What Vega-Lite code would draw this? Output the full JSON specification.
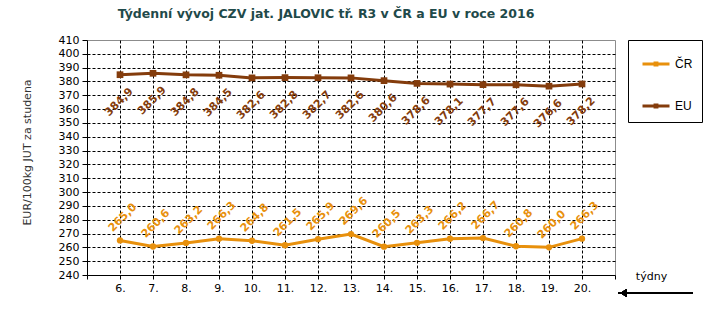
{
  "$schema": "https://vega.github.io/schema/vega-lite/v6.json",
  "width": 528,
  "height": 235,
  "autosize": {"type": "none"},
  "padding": {"left": 87, "top": 40, "right": 98, "bottom": 49},
  "background": "white",
  "config": {
    "locale": {"number": {"decimal": ",", "thousands": " ", "grouping": [3], "currency": ["", " €"]}},
    "view": {"stroke": "#8c8c8c", "strokeWidth": 1},
    "font": "DejaVu Sans"
  },
  "title": {
    "text": "Týdenní  vývoj CZV jat. JALOVIC tř. R3  v ČR a EU v roce 2016",
    "font": "DejaVu Sans",
    "fontSize": 12.5,
    "fontWeight": "bold",
    "color": "#1F4A4A",
    "anchor": "middle",
    "dx": -25,
    "offset": 14
  },
  "data": {
    "values": [
      {"week": 6, "series": "ČR", "value": 265.0},
      {"week": 7, "series": "ČR", "value": 260.6},
      {"week": 8, "series": "ČR", "value": 263.2},
      {"week": 9, "series": "ČR", "value": 266.3},
      {"week": 10, "series": "ČR", "value": 264.8},
      {"week": 11, "series": "ČR", "value": 261.5},
      {"week": 12, "series": "ČR", "value": 265.9},
      {"week": 13, "series": "ČR", "value": 269.6},
      {"week": 14, "series": "ČR", "value": 260.5},
      {"week": 15, "series": "ČR", "value": 263.3},
      {"week": 16, "series": "ČR", "value": 266.2},
      {"week": 17, "series": "ČR", "value": 266.7},
      {"week": 18, "series": "ČR", "value": 260.8},
      {"week": 19, "series": "ČR", "value": 260.0},
      {"week": 20, "series": "ČR", "value": 266.3},
      {"week": 6, "series": "EU", "value": 384.9},
      {"week": 7, "series": "EU", "value": 385.9},
      {"week": 8, "series": "EU", "value": 384.8},
      {"week": 9, "series": "EU", "value": 384.5},
      {"week": 10, "series": "EU", "value": 382.6},
      {"week": 11, "series": "EU", "value": 382.8},
      {"week": 12, "series": "EU", "value": 382.7},
      {"week": 13, "series": "EU", "value": 382.6},
      {"week": 14, "series": "EU", "value": 380.6},
      {"week": 15, "series": "EU", "value": 378.6},
      {"week": 16, "series": "EU", "value": 378.1},
      {"week": 17, "series": "EU", "value": 377.7},
      {"week": 18, "series": "EU", "value": 377.6},
      {"week": 19, "series": "EU", "value": 376.6},
      {"week": 20, "series": "EU", "value": 378.2}
    ]
  },
  "layer": [
    {
      "mark": {"type": "line", "strokeWidth": 3},
      "encoding": {
        "x": {
          "field": "week", "type": "quantitative",
          "scale": {"domain": [5, 21], "nice": false, "zero": false},
          "axis": {
            "values": [5,6,7,8,9,10,11,12,13,14,15,16,17,18,19,20,21],
            "tickCount": 30,
            "labelExpr": "datum.value >= 6 && datum.value <= 20 ? datum.value + '.' : ''",
            "labelOverlap": false,
            "grid": true,
            "gridColor": "black",
            "gridDash": [3, 2],
            "gridOpacity": {"condition": {"test": "datum.value < 6 || datum.value > 20", "value": 0}, "value": 1},
            "domainColor": "black",
            "tickColor": "black",
            "tickSize": 4,
            "labelFont": "DejaVu Sans",
            "labelFontSize": 11,
            "labelColor": "black",
            "labelPadding": 3,
            "title": "týdny",
            "titleX": 564,
            "titleY": 1,
            "titleBaseline": "middle",
            "titleAlign": "center",
            "titleFont": "DejaVu Sans",
            "titleFontWeight": "normal",
            "titleFontSize": 11,
            "titleColor": "black"
          }
        },
        "y": {
          "field": "value", "type": "quantitative",
          "scale": {"domain": [240, 410], "nice": false, "zero": false},
          "axis": {
            "values": [240,250,260,270,280,290,300,310,320,330,340,350,360,370,380,390,400,410],
            "tickCount": 30,
            "labelOverlap": false,
            "grid": true,
            "gridColor": "black",
            "gridDash": [3, 2],
            "gridOpacity": {"condition": {"test": "datum.value <= 240 || datum.value >= 410", "value": 0}, "value": 1},
            "domainColor": "black",
            "tickColor": "black",
            "tickSize": 5,
            "labelFont": "DejaVu Sans",
            "labelFontSize": 11,
            "labelColor": "black",
            "labelPadding": 3,
            "title": "EUR/100kg JUT za studena",
            "titleX": -60,
            "titleY": 112,
            "titleAngle": 270,
            "titleAlign": "center",
            "titleBaseline": "middle",
            "titleFont": "DejaVu Sans",
            "titleFontWeight": "normal",
            "titleFontSize": 11,
            "titleColor": "#333333"
          }
        },
        "color": {
          "field": "series", "type": "nominal",
          "scale": {"domain": ["ČR", "EU"], "range": ["#E8900C", "#843C0C"]},
          "legend": {
            "orient": "none",
            "legendX": 541,
            "legendY": 0,
            "title": null,
            "strokeColor": "black",
            "fillColor": "white",
            "padding": 9,
            "symbolType": "M-1,0H1M-0.07,-0.07H0.07V0.07H-0.07Z",
            "symbolSize": 729,
            "symbolStrokeWidth": 3,
            "rowPadding": 20,
            "labelFont": "Liberation Sans",
            "labelFontSize": 12,
            "labelColor": "black",
            "labelOffset": 4,
            "symbolOffset": 4
          }
        }
      }
    },
    {
      "transform": [{"filter": "datum.series == 'ČR'"}],
      "mark": {"type": "point", "shape": "circle", "filled": true, "opacity": 1, "size": 40, "color": "#E8900C"},
      "encoding": {
        "x": {"field": "week", "type": "quantitative"},
        "y": {"field": "value", "type": "quantitative"}
      }
    },
    {
      "transform": [{"filter": "datum.series == 'EU'"}],
      "mark": {"type": "point", "shape": "square", "filled": true, "opacity": 1, "size": 45, "color": "#843C0C"},
      "encoding": {
        "x": {"field": "week", "type": "quantitative"},
        "y": {"field": "value", "type": "quantitative"}
      }
    },
    {
      "transform": [{"filter": "datum.series == 'EU'"}],
      "mark": {"type": "text", "angle": 315, "dx": -20, "dy": 19, "font": "DejaVu Sans", "fontWeight": "bold", "fontSize": 11, "color": "#843C0C"},
      "encoding": {
        "x": {"field": "week", "type": "quantitative"},
        "y": {"field": "value", "type": "quantitative"},
        "text": {"field": "value", "type": "quantitative", "format": ".1f"}
      }
    },
    {
      "transform": [{"filter": "datum.series == 'ČR'"}],
      "mark": {"type": "text", "angle": 315, "dx": 18, "dy": -14, "font": "DejaVu Sans", "fontWeight": "bold", "fontSize": 11, "color": "#E8900C"},
      "encoding": {
        "x": {"field": "week", "type": "quantitative"},
        "y": {"field": "value", "type": "quantitative"},
        "text": {"field": "value", "type": "quantitative", "format": ".1f"}
      }
    },
    {
      "mark": {"type": "rule", "clip": false, "strokeWidth": 1.5, "color": "black"},
      "encoding": {
        "x": {"datum": 21.1},
        "x2": {"datum": 23.36},
        "y": {"datum": 227}
      }
    },
    {
      "mark": {"type": "point", "shape": "triangle-left", "filled": true, "color": "black", "opacity": 1, "size": 50, "clip": false},
      "encoding": {
        "x": {"datum": 21.25},
        "y": {"datum": 227}
      }
    }
  ]
}
